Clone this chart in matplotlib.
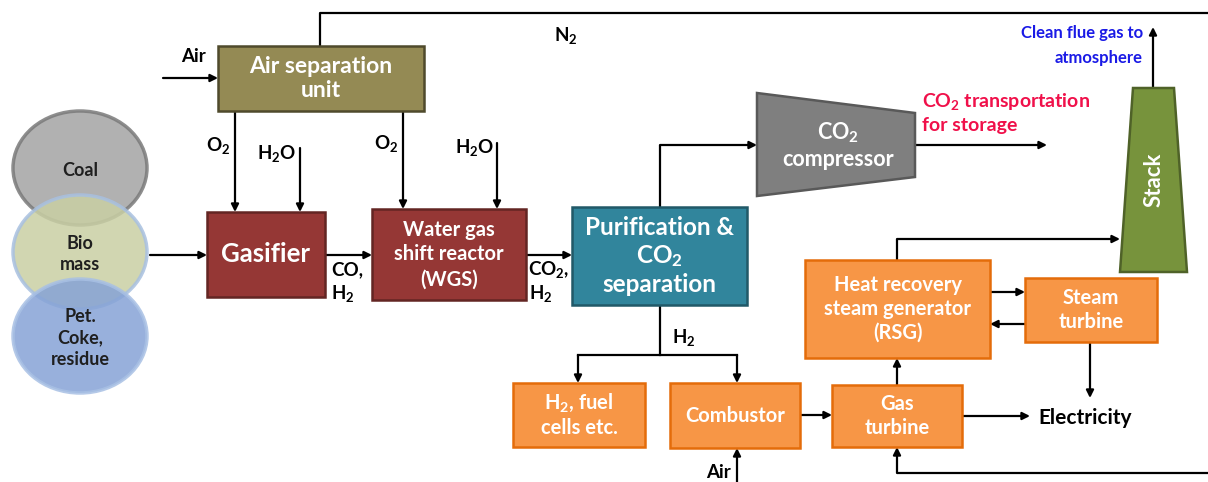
import matplotlib
matplotlib.use('Agg')
import matplotlib.pyplot as plt
from matplotlib.patches import Rectangle, Ellipse, Polygon

plt.rcParams['font.family'] = ['Lato', 'DejaVu Sans']
plt.rcParams['font.weight'] = 'bold'
plt.rcParams['mathtext.fontset'] = 'custom'
plt.rcParams['mathtext.rm'] = 'Lato:bold'
plt.rcParams['mathtext.it'] = 'Lato:bold'
plt.rcParams['mathtext.bf'] = 'Lato:bold'

# feedstock circles
feeds = ['Coal', 'Bio\nmass', 'Pet.\nCoke,\nresidue']
feed_fill = ['#a4a4a4', '#c9cfa4', '#86a3d6']
feed_edge = ['#7a7a7a', '#a8c0e0', '#a8c0e4']

# process blocks
box_labels = {
    'asu': 'Air separation\nunit',
    'gas': 'Gasifier',
    'wgs': 'Water gas\nshift reactor\n(WGS)',
    'pur': 'Purification &\nCO$_2$\nseparation',
    'hrsg': 'Heat recovery\nsteam generator\n(RSG)',
    'st': 'Steam\nturbine',
    'gt': 'Gas\nturbine',
    'comb': 'Combustor',
    'fc': 'H$_2$, fuel\ncells etc.',
}
stream_labels = ['Air', 'O$_2$', 'H$_2$O', 'N$_2$', 'CO,', 'H$_2$', 'CO$_2$,']

SMALL = 13.5


def box(ax, x0, y0, x1, y1, fc, ec, text, fs=12, ls=1.25):
    ax.add_patch(Rectangle((x0, y0), x1 - x0, y1 - y0, fc=fc, ec=ec, lw=1.8, zorder=2))
    ax.text((x0 + x1) / 2, (y0 + y1) / 2, text, color='white', fontsize=fs,
            ha='center', va='center', linespacing=ls, zorder=3)


def arrow(ax, pts):
    xs = [p[0] for p in pts]
    ys = [p[1] for p in pts]
    if len(pts) > 2:
        ax.plot(xs[:-1], ys[:-1], color='black', lw=1.6, zorder=1, solid_capstyle='butt')
    ax.annotate('', xy=pts[-1], xytext=pts[-2],
                arrowprops=dict(arrowstyle='-|>', color='black', lw=1.6,
                                mutation_scale=11, shrinkA=0, shrinkB=0), zorder=1)


def label(ax, x, y, s, fs=SMALL, color='black', ha='center'):
    ax.text(x, y, s, fontsize=fs, color=color, ha=ha, va='center', zorder=4)


fig = plt.figure(figsize=(12.08, 4.82), dpi=100)
ax = fig.add_axes([0, 0, 1, 1])
ax.set_xlim(0, 1208)
ax.set_ylim(482, 0)
ax.axis('off')

# circles
centers = [(80, 168), (80, 252), (80, 336)]
for (cx, cy), t, fc, ec in zip(centers, feeds, feed_fill, feed_edge):
    ax.add_patch(Ellipse((cx, cy), 134, 114, fc=fc, ec=ec, lw=2.5, alpha=0.85, zorder=2))
    ax.text(cx, cy + 2, t, fontsize=13, color='#1f1f1f', ha='center', va='center',
            linespacing=1.3, zorder=3)

# blocks
box(ax, 218, 46, 424, 111, '#948a54', '#4f4a2c', box_labels['asu'], 16.5, 1.2)
box(ax, 207, 212, 325, 297, '#953735', '#632523', box_labels['gas'], 18.5)
box(ax, 372, 209, 526, 300, '#953735', '#632523', box_labels['wgs'], 14.5, 1.3)
box(ax, 572, 207, 747, 305, '#31859c', '#215968', box_labels['pur'], 17.5, 1.2)
box(ax, 805, 260, 990, 358, '#f79646', '#e46c0a', box_labels['hrsg'], 14.5)
box(ax, 1025, 278, 1157, 342, '#f79646', '#e46c0a', box_labels['st'], 14.5)
box(ax, 832, 385, 962, 447, '#f79646', '#e46c0a', box_labels['gt'], 14.5)
box(ax, 670, 383, 800, 448, '#f79646', '#e46c0a', box_labels['comb'], 14.5)
box(ax, 513, 383, 645, 447, '#f79646', '#e46c0a', box_labels['fc'], 14.5)

# compressor
ax.add_patch(Polygon([(757, 93), (915, 113), (915, 177), (757, 196)], closed=True,
                     fc='#7f7f7f', ec='#595959', lw=1.8, zorder=2))
ax.text(838, 145, 'CO$_2$\ncompressor', color='white', fontsize=15.5, ha='center',
        va='center', linespacing=1.2, zorder=3)

# stack
ax.add_patch(Polygon([(1133, 88), (1174, 88), (1187, 272), (1120, 272)], closed=True,
                     fc='#77933c', ec='#4f6228', lw=1.8, zorder=2))
ax.text(1154, 180, 'Stack', color='white', fontsize=16, rotation=90, ha='center',
        va='center', zorder=3)

# streams
ax.plot([320, 320, 1208], [46, 13, 13], color='black', lw=1.6, zorder=1)
label(ax, 566, 36, stream_labels[3])
arrow(ax, [(163, 78), (218, 78)])
label(ax, 193, 56, stream_labels[0])
arrow(ax, [(235, 111), (235, 212)])
label(ax, 218, 145, stream_labels[1])
arrow(ax, [(300, 148), (300, 212)])
label(ax, 277, 153, stream_labels[2])
arrow(ax, [(403, 111), (403, 209)])
label(ax, 386, 143, stream_labels[1])
arrow(ax, [(497, 143), (497, 209)])
label(ax, 475, 148, stream_labels[2])
arrow(ax, [(150, 255), (207, 255)])
arrow(ax, [(325, 255), (372, 255)])
label(ax, 347, 270, stream_labels[4])
label(ax, 343, 294, stream_labels[5])
arrow(ax, [(526, 255), (572, 255)])
label(ax, 549, 270, stream_labels[6])
label(ax, 541, 294, stream_labels[5])

arrow(ax, [(660, 207), (660, 145), (757, 145)])
arrow(ax, [(915, 145), (1047, 145)])
label(ax, 922, 101, 'CO$_2$ transportation', 14, '#f0104a', 'left')
label(ax, 922, 125, 'for storage', 14, '#f0104a', 'left')
arrow(ax, [(1153, 88), (1153, 27)])
label(ax, 1143, 33, 'Clean flue gas to', 12, '#1a1ae6', 'right')
label(ax, 1143, 58, 'atmosphere', 12, '#1a1ae6', 'right')
arrow(ax, [(897, 260), (897, 239), (1120, 239)])

ax.plot([660, 660], [305, 355], color='black', lw=1.6, zorder=1)
ax.plot([578, 737], [355, 355], color='black', lw=1.6, zorder=1)
arrow(ax, [(578, 355), (578, 383)])
arrow(ax, [(737, 355), (737, 383)])
label(ax, 684, 337, stream_labels[5])
arrow(ax, [(737, 482), (737, 448)])
label(ax, 718, 472, stream_labels[0])

arrow(ax, [(990, 292), (1025, 292)])
arrow(ax, [(1025, 324), (990, 324)])
arrow(ax, [(1090, 342), (1090, 398)])
arrow(ax, [(800, 415), (832, 415)])
arrow(ax, [(962, 416), (1030, 416)])
label(ax, 1038, 418, 'Electricity', 15, 'black', 'left')
arrow(ax, [(897, 385), (897, 358)])
arrow(ax, [(1208, 473), (897, 473), (897, 447)])

fig.savefig('out.png', dpi=100)
